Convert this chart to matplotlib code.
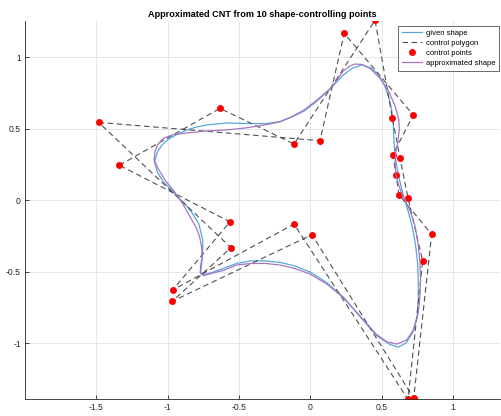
import numpy as np
import matplotlib
matplotlib.use("Agg")
import matplotlib.pyplot as plt

plt.rcParams['font.family'] = ['Liberation Sans', 'DejaVu Sans']
plt.rcParams['axes.unicode_minus'] = False

# --- Shape outlines (closed curves, x / y) ---
given_x = [-1.092, -1.072, -1.040, -0.998, -0.942, -0.867, -0.795, -0.727, -0.586, -0.446,
           -0.306, -0.212, -0.128, -0.044, 0.047, 0.150, 0.231, 0.292, 0.360, 0.419,
           0.475, 0.517, 0.550, 0.571, 0.582, 0.586, 0.594, 0.608, 0.629, 0.654,
           0.687, 0.717, 0.738, 0.752, 0.757, 0.757, 0.748, 0.720, 0.671, 0.617,
           0.559, 0.468, 0.349, 0.231, 0.115, -0.002, -0.107, -0.212, -0.318, -0.423,
           -0.516, -0.610, -0.696, -0.745, -0.769, -0.762, -0.755, -0.754, -0.781, -0.826,
           -0.872, -0.921, -0.972, -1.031, -1.072, -1.092]
given_y = [0.268, 0.338, 0.387, 0.425, 0.457, 0.492, 0.513, 0.527, 0.541, 0.537,
           0.537, 0.551, 0.583, 0.624, 0.694, 0.790, 0.876, 0.922, 0.946, 0.929,
           0.883, 0.813, 0.722, 0.631, 0.527, 0.422, 0.317, 0.226, 0.128, 0.030,
           -0.080, -0.194, -0.313, -0.431, -0.557, -0.697, -0.823, -0.921, -0.998, -1.026,
           -1.008, -0.949, -0.814, -0.676, -0.575, -0.501, -0.459, -0.434, -0.423, -0.424,
           -0.441, -0.476, -0.507, -0.519, -0.501, -0.452, -0.371, -0.278, -0.166, -0.092,
           -0.033, 0.016, 0.072, 0.130, 0.198, 0.268]

approx_x = [-1.094, -1.089, -1.072, -1.031, -0.970, -0.867, -0.727, -0.586, -0.446, -0.306,
            -0.212, -0.128, -0.044, 0.047, 0.150, 0.231, 0.278, 0.313, 0.363, 0.419,
            0.489, 0.552, 0.597, 0.621, 0.624, 0.614, 0.600, 0.594, 0.601, 0.619,
            0.643, 0.671, 0.703, 0.734, 0.757, 0.769, 0.773, 0.767, 0.755, 0.722,
            0.676, 0.606, 0.536, 0.461, 0.349, 0.231, 0.115, -0.002, -0.107, -0.212,
            -0.318, -0.423, -0.516, -0.610, -0.696, -0.749, -0.771, -0.769, -0.758, -0.763,
            -0.777, -0.802, -0.844, -0.891, -0.961, -1.019, -1.065, -1.094]
approx_y = [0.282, 0.338, 0.387, 0.432, 0.457, 0.471, 0.485, 0.492, 0.507, 0.530,
            0.549, 0.586, 0.631, 0.701, 0.790, 0.904, 0.939, 0.953, 0.950, 0.922,
            0.853, 0.757, 0.652, 0.562, 0.492, 0.408, 0.338, 0.261, 0.177, 0.107,
            0.044, -0.012, -0.082, -0.180, -0.313, -0.431, -0.557, -0.697, -0.795, -0.907,
            -0.977, -1.005, -0.989, -0.935, -0.809, -0.680, -0.585, -0.515, -0.477, -0.452,
            -0.441, -0.442, -0.452, -0.490, -0.512, -0.526, -0.508, -0.459, -0.390, -0.320,
            -0.250, -0.187, -0.113, -0.029, 0.072, 0.142, 0.219, 0.282]

# --- Control polygons (two closed loops) ---
poly_a_x = [-1.484, 0.068, 0.238, 0.722, 0.578, 0.601, 0.622, 0.851, 0.725, 0.012, -0.968, -0.556]
poly_a_y = [0.545, 0.417, 1.168, 0.596, 0.317, 0.179, 0.039, -0.238, -1.383, -0.240, -0.706, -0.331]
poly_b_x = [-1.339, -0.633, -0.114, 0.454, 0.575, 0.629, 0.685, 0.788, 0.685, -0.114, -0.965, -0.563]
poly_b_y = [0.245, 0.643, 0.394, 1.259, 0.578, 0.296, 0.016, -0.424, -1.392, -0.166, -0.627, -0.150]

title = 'Approximated CNT from 10 shape-controlling points'
xticks = [-1.5, -1, -0.5, 0, 0.5, 1]
yticks = [-1, -0.5, 0, 0.5, 1]

fig = plt.figure(figsize=(5.02, 4.16), dpi=100)
ax = fig.add_axes([25 / 502, 1 - 398.7 / 416, 475 / 502, 378 / 416])

col_given = '#57a6dc'
col_approx = '#a874c4'
col_poly = '#505050'

# close the loops for the dashed polygon, NaN splits the two
px = poly_a_x + [poly_a_x[0], np.nan] + poly_b_x + [poly_b_x[0]]
py = poly_a_y + [poly_a_y[0], np.nan] + poly_b_y + [poly_b_y[0]]

ax.plot(given_x, given_y, color=col_given, lw=0.9, label='given shape')
ax.plot(px, py, color=col_poly, lw=0.8, dashes=(5, 3.2), label='control polygon')
ax.plot(poly_a_x + poly_b_x, poly_a_y + poly_b_y, 'o', color='#ff0000', ms=5,
        mec='none', label='control points')
ax.plot(approx_x, approx_y, color=col_approx, lw=0.9, label='approximated shape')

ax.set_xlim(-2.0, 1.33)
ax.set_ylim(-1.387, 1.256)
ax.set_xticks(xticks)
ax.set_yticks(yticks)
ax.set_xticklabels([f'{t:g}' for t in xticks])
ax.set_yticklabels([f'{t:g}' for t in yticks])

ax.grid(True, color='#e3e3e3', lw=0.6)
ax.set_axisbelow(True)
for s in ('top', 'right'):
    ax.spines[s].set_visible(False)
for s in ('left', 'bottom'):
    ax.spines[s].set_color('#262626')
    ax.spines[s].set_linewidth(0.6)
ax.tick_params(direction='in', length=3, width=0.6, colors='#262626',
               labelsize=6.2, pad=3)

ax.set_title(title, fontsize=6.6, fontweight='bold', pad=2.5)

leg = ax.legend(loc='upper right', bbox_to_anchor=(499 / 502, 1 - 26 / 416),
                bbox_transform=fig.transFigure, fontsize=5.5, frameon=True,
                fancybox=False, borderaxespad=0, handlelength=2.7,
                labelspacing=0.33, borderpad=0.5, handletextpad=0.45)
leg.get_frame().set_edgecolor('#262626')
leg.get_frame().set_linewidth(0.6)

fig.savefig('out.png', dpi=100)
